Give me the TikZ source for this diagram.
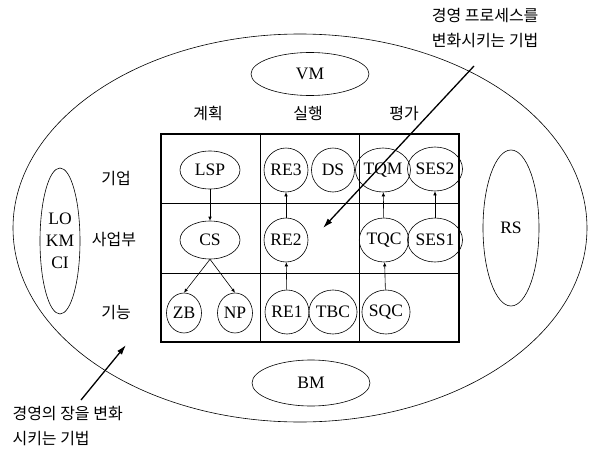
\documentclass[tikz,border=0pt]{standalone}
\usepackage{fontspec}
\setmainfont{Liberation Serif}
\newfontfamily\kr{Noto Sans CJK KR}
\usetikzlibrary{shapes.geometric,arrows.meta}
\begin{document}
\begin{tikzpicture}[x=1pt,y=-1pt,
  lat/.style={font=\fontsize{17.5}{22}\selectfont},
  krt/.style={font=\kr\fontsize{16}{24.5}\selectfont},
  ell/.style={draw, ellipse, line width=0.6pt, inner sep=0pt, lat},
  circ/.style={ell, minimum width=43pt, minimum height=44pt},
  oval/.style={ell, minimum width=60pt, minimum height=38pt},
  arr/.style={-{Latex[length=4pt,width=3.5pt]}, line width=0.6pt},
  bigarr/.style={-{Latex[length=10pt,width=6pt]}, line width=1.3pt},
  grid/.style={line width=0.8pt},
]
\useasboundingbox (0,0) rectangle (590,450);
% outer field
\node[ell, minimum width=574pt, minimum height=388pt] (outer) at (300,228) {};
\node[ell, minimum width=118pt, minimum height=43pt] (vm) at (310,74) {VM};
\node[ell, minimum width=118pt, minimum height=46pt] (bm) at (311,383) {BM};
\node[ell, minimum width=56pt, minimum height=156pt] (rs) at (511,228) {RS};
\node[ell, minimum width=40pt, minimum height=146pt, align=center] (lo) at (60,241) {LO\\KM\\CI};
% table
\draw[grid] (260,134) -- (260,342) (359,134) -- (359,342)
            (161,203) -- (459,203) (161,273) -- (459,273);
\draw[line width=1.6pt] (161,134) rectangle (459,342);
% headers
\node[krt] (h1) at (208,113) {계획};
\node[krt] (h2) at (308,113) {실행};
\node[krt] (h3) at (404,113) {평가};
\node[krt] (r1) at (116,179) {기업};
\node[krt] (r2) at (114,240) {사업부};
\node[krt] (r3) at (116,313) {기능};
% nodes
\node[oval] (lsp) at (210,170) {LSP};
\node[oval] (cs) at (210,240) {CS};
\node[circ, minimum width=35pt, minimum height=40pt] (zb) at (184,313) {ZB};
\node[circ, minimum width=35pt, minimum height=40pt] (np) at (235,313) {NP};
\node[circ] (re3) at (286,170) {RE3};
\node[circ] (ds) at (333,170) {DS};
\node[circ] (tqm) at (383,170) {TQM};
\node[circ] (ses2) at (435,169) {SES2};
\node[circ] (re2) at (286,240) {RE2};
\node[circ] (tqc) at (384,240) {TQC};
\node[circ] (ses1) at (435,240) {SES1};
\node[circ] (re1) at (287,312) {RE1};
\node[circ] (tbc) at (333,312) {TBC};
\node[circ] (sqc) at (386,312) {SQC};
% arrows
\draw[arr] (lsp) -- (cs);
\draw[arr] (cs.south) -- (zb.north);
\draw[arr] (cs.south) -- (np.north);
\draw[arr] (re1) -- (re2);
\draw[arr] (re2) -- (re3);
\draw[arr] (sqc) -- (tqc);
\draw[arr] (tqc) -- (tqm);
\draw[arr] (ses1) -- (ses2);
% annotations
\node[krt, align=left, anchor=north east] (t1) at (542,5) {경영 프로세스를\\변화시키는 기법};
\coordinate (t1s) at (474,66);
\coordinate (t1e) at (323,228);
\draw[bigarr] (t1s) -- (t1e);
\node[krt, align=left, anchor=north west] (t2) at (9,403) {경영의 장을 변화\\시키는 기법};
\coordinate (t2s) at (81,400);
\coordinate (t2e) at (126,345);
\draw[bigarr] (t2s) -- (t2e);
\end{tikzpicture}
\end{document}
